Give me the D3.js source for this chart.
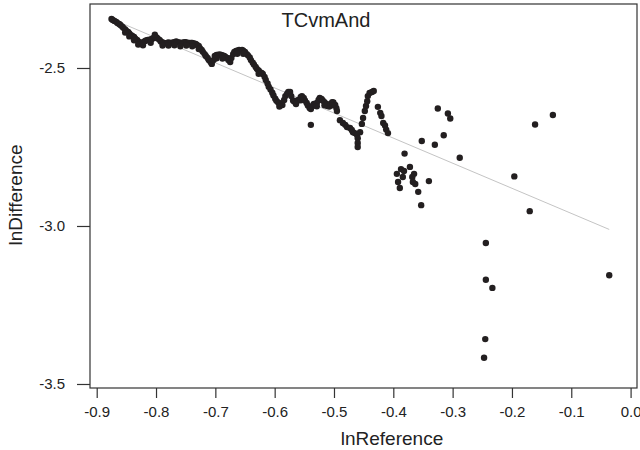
<!DOCTYPE html>
<html>
<head>
<meta charset="utf-8">
<script src="https://cdn.jsdelivr.net/npm/d3@7"></script>
<style>
  body { margin: 0; background: #fff; }
  svg { font-family: "Liberation Sans", Arial, sans-serif; }
  .tick text { fill: #222; }
</style>
</head>
<body>
<svg id="chart"></svg>
<script>
// dense trajectory part (lnReference, lnDifference)
var bandRef = [-0.875,-0.873,-0.870,-0.867,-0.865,-0.862,-0.860,-0.857,-0.855,-0.852,
  -0.850,-0.847,-0.845,-0.842,-0.840,-0.837,-0.835,-0.832,-0.830,-0.827,
  -0.824,-0.822,-0.819,-0.817,-0.814,-0.812,-0.809,-0.807,-0.804,-0.802,
  -0.799,-0.797,-0.794,-0.792,-0.789,-0.787,-0.784,-0.781,-0.779,-0.776,
  -0.774,-0.771,-0.769,-0.766,-0.764,-0.761,-0.759,-0.756,-0.754,-0.751,
  -0.749,-0.746,-0.744,-0.741,-0.739,-0.736,-0.733,-0.731,-0.728,-0.726,
  -0.723,-0.721,-0.718,-0.716,-0.713,-0.711,-0.708,-0.706,-0.703,-0.701,
  -0.698,-0.696,-0.693,-0.690,-0.688,-0.685,-0.683,-0.680,-0.678,-0.675,
  -0.673,-0.670,-0.668,-0.665,-0.663,-0.660,-0.658,-0.655,-0.653,-0.650,
  -0.647,-0.645,-0.642,-0.640,-0.637,-0.635,-0.632,-0.630,-0.627,-0.625,
  -0.622,-0.620,-0.617,-0.615,-0.612,-0.610,-0.607,-0.604,-0.602,-0.599,
  -0.597,-0.594,-0.592,-0.589,-0.587,-0.584,-0.582,-0.579,-0.577,-0.574,
  -0.572,-0.569,-0.567,-0.564,-0.561,-0.559,-0.556,-0.554,-0.551,-0.549,
  -0.546,-0.544,-0.541,-0.539,-0.536,-0.534,-0.531,-0.529,-0.526,-0.524,
  -0.521,-0.519,-0.516,-0.513,-0.511,-0.508,-0.506,-0.503,-0.501,-0.498,
  -0.496,-0.495];
var bandDiff = [-2.345,-2.348,-2.351,-2.354,-2.358,-2.361,-2.364,-2.369,-2.373,-2.378,
  -2.383,-2.386,-2.391,-2.396,-2.399,-2.402,-2.407,-2.411,-2.416,-2.421,
  -2.421,-2.418,-2.415,-2.413,-2.411,-2.411,-2.410,-2.408,-2.405,-2.402,
  -2.403,-2.407,-2.411,-2.416,-2.419,-2.421,-2.422,-2.421,-2.419,-2.421,
  -2.421,-2.419,-2.418,-2.416,-2.418,-2.419,-2.421,-2.421,-2.419,-2.418,
  -2.419,-2.421,-2.421,-2.421,-2.421,-2.422,-2.424,-2.427,-2.430,-2.437,
  -2.443,-2.449,-2.456,-2.462,-2.468,-2.475,-2.481,-2.487,-2.475,-2.462,
  -2.459,-2.459,-2.457,-2.459,-2.460,-2.462,-2.465,-2.468,-2.475,-2.481,
  -2.468,-2.456,-2.449,-2.446,-2.445,-2.443,-2.445,-2.443,-2.445,-2.449,
  -2.456,-2.460,-2.467,-2.475,-2.483,-2.489,-2.497,-2.503,-2.508,-2.513,
  -2.516,-2.519,-2.528,-2.538,-2.549,-2.559,-2.568,-2.578,-2.587,-2.597,
  -2.604,-2.609,-2.612,-2.616,-2.617,-2.601,-2.589,-2.581,-2.576,-2.576,
  -2.589,-2.603,-2.606,-2.604,-2.603,-2.600,-2.592,-2.589,-2.595,-2.603,
  -2.611,-2.619,-2.627,-2.630,-2.620,-2.614,-2.617,-2.611,-2.601,-2.595,
  -2.598,-2.603,-2.608,-2.614,-2.620,-2.622,-2.614,-2.608,-2.609,-2.617,
  -2.627,-2.636];

// points lying just off the trajectory, which make it look thicker
var looseRef = [-0.852,-0.845,-0.837,-0.830,-0.822,-0.809,-0.802,-0.789,-0.779,-0.769,
  -0.759,-0.749,-0.739,-0.728,-0.698,-0.688,-0.663,-0.653,-0.627,-0.592,
  -0.564,-0.556,-0.529,-0.516,-0.503];
var looseDiff = [-2.388,-2.400,-2.412,-2.426,-2.428,-2.420,-2.395,-2.429,-2.429,-2.428,
  -2.431,-2.429,-2.431,-2.440,-2.469,-2.470,-2.455,-2.455,-2.518,-2.622,
  -2.614,-2.602,-2.621,-2.618,-2.618];

// scattered points
var spreadRef = [-0.539,
  -0.490,-0.485,-0.481,-0.478,-0.473,-0.470,-0.468,-0.465,-0.461,-0.460,-0.460,-0.460,
  -0.456,-0.453,-0.451,-0.448,-0.446,-0.444,-0.443,-0.440,-0.436,-0.433,
  -0.426,-0.422,-0.420,-0.417,-0.414,-0.412,-0.409,
  -0.381,-0.352,-0.330,-0.325,-0.308,-0.304,-0.315,-0.288,
  -0.387,-0.382,-0.372,-0.394,-0.392,-0.389,-0.384,-0.368,-0.365,-0.367,-0.363,-0.340,-0.358,-0.353,
  -0.196,-0.161,-0.131,-0.170,-0.244,-0.244,-0.233,-0.245,-0.247,-0.036];
var spreadDiff = [-2.680,
  -2.665,-2.674,-2.680,-2.687,-2.690,-2.696,-2.703,-2.706,-2.712,-2.722,-2.737,-2.750,
  -2.703,-2.677,-2.658,-2.636,-2.620,-2.605,-2.589,-2.579,-2.576,-2.573,
  -2.623,-2.642,-2.652,-2.674,-2.682,-2.695,-2.706,
  -2.771,-2.731,-2.743,-2.628,-2.644,-2.660,-2.713,-2.784,
  -2.820,-2.826,-2.813,-2.835,-2.861,-2.880,-2.845,-2.845,-2.835,-2.861,-2.867,-2.858,-2.892,-2.934,
  -2.843,-2.679,-2.649,-2.953,-3.054,-3.170,-3.196,-3.358,-3.417,-3.156];

// fitted line lnDifference = a + b * lnReference
var fitCoef = [-3.0395, -0.794];
var fitRange = [-0.876, -0.036];

var xTicks = [-0.9, -0.8, -0.7, -0.6, -0.5, -0.4, -0.3, -0.2, -0.1, 0.0];
var yTicks = [-2.5, -3.0, -3.5];

var width = 640, height = 450;
var margin = { top: 4, right: 3, bottom: 62, left: 90 };

var svg = d3.select("#chart").attr("width", width).attr("height", height);

var x = d3.scaleLinear().domain([-0.9113, 0.0108]).range([margin.left, width - margin.right]);
var y = d3.scaleLinear().domain([-2.2975, -3.5127]).range([margin.top, height - margin.bottom]);

function pairs(a, b) {
  return a.map(function (d, i) { return { r: d, d: b[i] }; });
}
var points = pairs(bandRef, bandDiff)
  .concat(pairs(looseRef, looseDiff))
  .concat(pairs(spreadRef, spreadDiff));

// plain hyphen minus like the original
var fmt = function (d) { return d3.format(".1f")(d).replace("\u2212", "-"); };

// fit line
svg.append("line")
  .attr("x1", x(fitRange[0])).attr("y1", y(fitCoef[0] + fitCoef[1] * fitRange[0]))
  .attr("x2", x(fitRange[1])).attr("y2", y(fitCoef[0] + fitCoef[1] * fitRange[1]))
  .attr("stroke", "#c4c4c4").attr("stroke-width", 1);

svg.selectAll(".dot")
  .data(points)
  .enter().append("circle")
  .attr("class", "dot")
  .attr("cx", function (d) { return x(d.r); })
  .attr("cy", function (d) { return y(d.d); })
  .attr("r", 3.2)
  .attr("fill", "#231f20");

// frame
svg.append("rect")
  .attr("x", margin.left).attr("y", margin.top)
  .attr("width", width - margin.left - margin.right)
  .attr("height", height - margin.top - margin.bottom)
  .attr("fill", "none").attr("stroke", "#333").attr("stroke-width", 1.2);

var xAxis = svg.append("g")
  .attr("transform", "translate(0," + (height - margin.bottom) + ")")
  .call(d3.axisBottom(x).tickValues(xTicks).tickSize(10).tickPadding(8).tickFormat(fmt));
xAxis.select(".domain").remove();
xAxis.selectAll("line").attr("stroke", "#333").attr("stroke-width", 1.2);
xAxis.selectAll("text").attr("font-size", 15).attr("font-family", "Liberation Sans, Arial, sans-serif");

var yAxis = svg.append("g")
  .attr("transform", "translate(" + margin.left + ",0)")
  .call(d3.axisLeft(y).tickValues(yTicks).tickSize(13).tickPadding(12).tickFormat(fmt));
yAxis.select(".domain").remove();
yAxis.selectAll("line").attr("stroke", "#333").attr("stroke-width", 1.2);
yAxis.selectAll("text").attr("font-size", 15).attr("font-family", "Liberation Sans, Arial, sans-serif");

svg.append("text")
  .attr("x", 326).attr("y", 27)
  .attr("text-anchor", "middle")
  .attr("font-size", 20)
  .attr("fill", "#222")
  .text("TCvmAnd");

svg.append("text")
  .attr("x", 392).attr("y", 445)
  .attr("text-anchor", "middle")
  .attr("font-size", 19)
  .attr("fill", "#222")
  .text("lnReference");

svg.append("text")
  .attr("transform", "translate(22,195) rotate(-90)")
  .attr("text-anchor", "middle")
  .attr("font-size", 19)
  .attr("fill", "#222")
  .text("lnDifference");
</script>
</body>
</html>
